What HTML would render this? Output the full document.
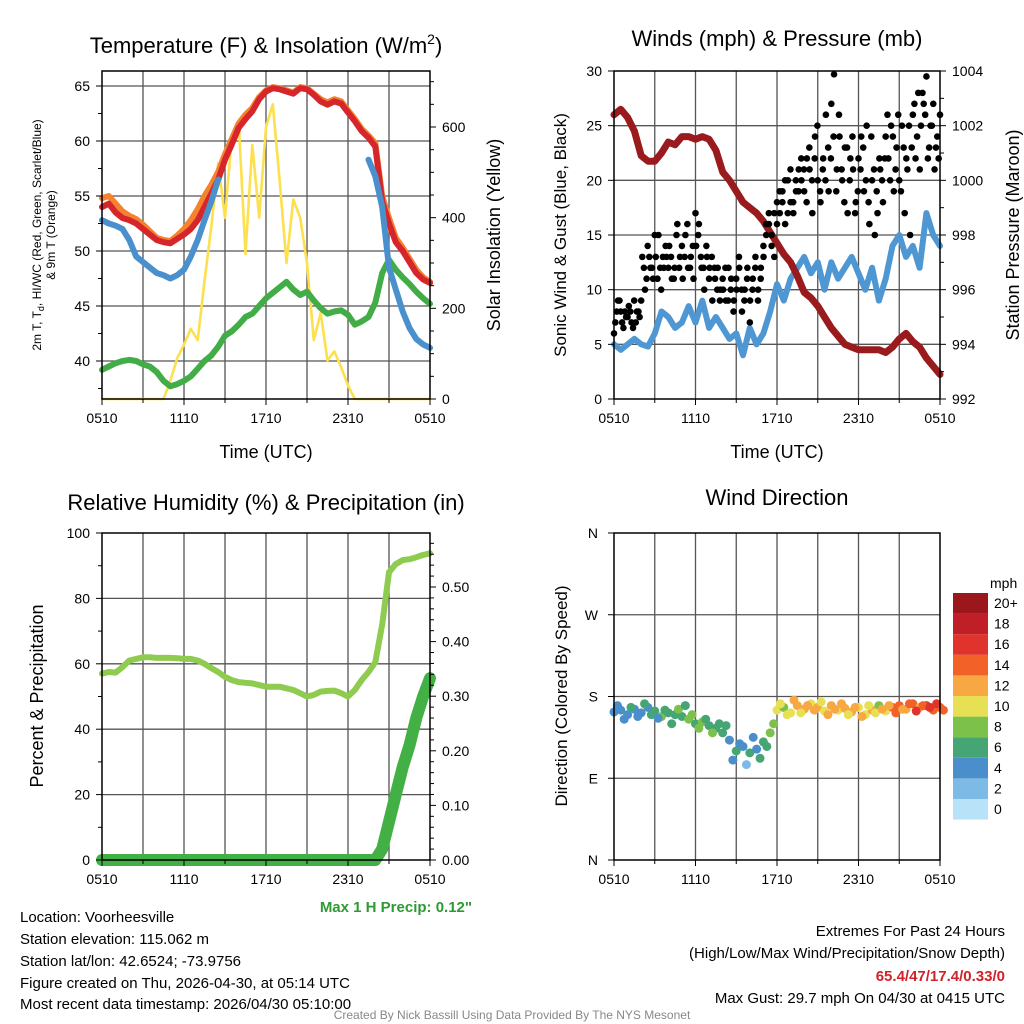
<!DOCTYPE html>
<html><head><meta charset="utf-8">
<style>
html,body{margin:0;padding:0;background:#fff;}
svg{display:block;font-family:"Liberation Sans",Arial,sans-serif;}
</style></head>
<body>
<svg id="fig" width="1024" height="1024" viewBox="0 0 1024 1024" xmlns="http://www.w3.org/2000/svg">
<text x="266" y="53" font-size="22" text-anchor="middle">Temperature (F) &amp; Insolation (W/m<tspan font-size="14" dy="-9">2</tspan><tspan dy="9">)</tspan></text>
<text x="777" y="46" font-size="22" text-anchor="middle">Winds (mph) &amp; Pressure (mb)</text>
<text x="266" y="510" font-size="22" text-anchor="middle">Relative Humidity (%) &amp; Precipitation (in)</text>
<text x="777" y="505" font-size="22" text-anchor="middle">Wind Direction</text>
<text x="266" y="458" font-size="18" text-anchor="middle">Time (UTC)</text>
<text x="777" y="458" font-size="18" text-anchor="middle">Time (UTC)</text>
<text transform="translate(41,235) rotate(-90)" font-size="12" text-anchor="middle">2m T, T<tspan font-size="9" dy="3">d</tspan><tspan dy="-3">, HI/WC (Red, Green, Scarlet/Blue)</tspan></text>
<text transform="translate(55,235) rotate(-90)" font-size="12" text-anchor="middle">&amp; 9m T (Orange)</text>
<text transform="translate(500,235) rotate(-90)" font-size="18" text-anchor="middle">Solar Insolation (Yellow)</text>
<text transform="translate(566,235) rotate(-90)" font-size="17" text-anchor="middle">Sonic Wind &amp; Gust (Blue, Black)</text>
<text transform="translate(1019,235) rotate(-90)" font-size="18" text-anchor="middle">Station Pressure (Maroon)</text>
<text transform="translate(43,696) rotate(-90)" font-size="18" text-anchor="middle">Percent &amp; Precipitation</text>
<text transform="translate(567,696) rotate(-90)" font-size="17" text-anchor="middle">Direction (Colored By Speed)</text>
<text x="472" y="912" font-size="15" font-weight="bold" fill="#2e9a33" text-anchor="end">Max 1 H Precip: 0.12"</text>
<g font-size="15">
<text x="20" y="922">Location: Voorheesville</text>
<text x="20" y="944">Station elevation: 115.062 m</text>
<text x="20" y="966">Station lat/lon: 42.6524; -73.9756</text>
<text x="20" y="988">Figure created on Thu, 2026-04-30, at 05:14 UTC</text>
<text x="20" y="1009">Most recent data timestamp: 2026/04/30 05:10:00</text>
</g>
<g font-size="15" text-anchor="end">
<text x="1005" y="936">Extremes For Past 24 Hours</text>
<text x="1005" y="958">(High/Low/Max Wind/Precipitation/Snow Depth)</text>
<text x="1005" y="981" fill="#d0222a" font-weight="bold">65.4/47/17.4/0.33/0</text>
<text x="1005" y="1003">Max Gust: 29.7 mph On 04/30 at 0415 UTC</text>
</g>
<text x="512" y="1019" font-size="12" fill="#888" text-anchor="middle">Created By Nick Bassill Using Data Provided By The NYS Mesonet</text>
</svg>
<script>
// ---- data (half-hourly, 0510 -> 0510 UTC) ----
const timeLabels = ["0510","1110","1710","2310","0510"];
const tempRed = [54,54.3,53.5,53,52.8,52.5,52,51.5, 51,50.8,50.7,51.1,51.5,52,52.8,54, 55.2,56.5,58.3,59.7,61.2,62,62.7,63.8, 64.5,64.8,64.7,64.5,64.3,64.8,64.7,64.2, 63.6,63.3,63.6,63.4,62.6,61.8,60.9,60.3, 59.5,54.5,52.5,50.8,50,49,48,47.4, 47.1];
const tempOrange = [54.8,55,54.3,53.6,53.2,52.9,52.4,51.8, 51.2,51,50.9,51.4,52,52.8,53.8,55, 56,57.2,58.8,60.2,61.6,62.4,63,64, 64.6,64.9,64.8,64.6,64.4,64.9,64.8,64.3, 63.8,63.5,63.8,63.6,62.8,62,61.1,60.5, 59.8,55,53,51.2,50.3,49.3,48.3,47.6, 47.2];
const heatIndexBlue = [52.8,52.5,52.3,52,51,49.5,49,48.5, 48,47.8,47.5,47.8,48.3,49.5,51,52.8, 54.5,56.5,null,null,null,null,null,null, null,null,null,null,null,null,null,null, null,null,null,null,null,null,null,58.3, 56.8,54,48.5,46.5,44.5,43,42,41.5, 41.2];
const dewGreen = [39.2,39.5,39.8,40,40.1,40,39.7,39.5, 39,38.2,37.7,37.9,38.2,38.6,39.3,40, 40.5,41.3,42.3,42.7,43.3,44,44.3,45, 45.7,46.2,46.7,47.2,46.5,46,46.3,45.5, 44.8,44.3,44.5,44.6,44.2,43.3,43.6,44, 45.3,48,49.2,48.3,47.6,47,46.3,45.7, 45.2];
const solar = [0,0,0,0,0,0,0,0,0,0, 40,90,120,155,130,260,380,520,400,580,610,320,560,400,600,650,480,300,440,400,300,130,190,85,105,70,30,0, 0,0,0,0,0,0,0,0,0,0,0];
const windSpeed = [5,4.5,5,5.5,5,4.8,6,8, 7.5,6.5,7,8.5,7,9,6.5,7.5, 6.5,5.5,6,4,6.5,5,6,8, 10.5,9,11,12,13,11.5,12.5,10, 12.5,11,12,13,11.5,10,12,9, 11,14,15,13,14,12,17,15, 14];
const gusts = [6,8,9,7,8,7.5,8,6.5,7,8, 9,12,11,13,12,15,11,12,13,14, 12,13,11,15,12,14,13,16,12,14, 17,15,13,12,14,11,13,12,10,9, 11,12,9,10,8,11,13,10,9,11, 7,10,12,9,11,14,16,17,15,13, 18,17,19,16,20,18,17,19,21,20, 19,22,21,17,24,20,18,22,26,19, 27,29.7,21,24,20,23,17,22,21,18, 22,24,19,25,16,20,15,17,21,18, 24,22,25,19,23,20,25,17,21,15, 26,22,28,25,27,29.5,23,25,21,24,26];
const gustsB = [7,9,8,6.5,7.5,8.5,7,9,8,7.5, 13,10,14,12,11,13,15,10,12,13, 14,11,12,16,13,11,15,12,13,11, 14,16,12,10,13,12,9,11,12,10, 10,9,12,11,9,10,12,8,10,12, 9,11,13,10,12,13,15,16,14,17, 16,19,18,20,17,21,18,20,19,22, 21,18,23,20,22,25,19,21,20,23, 22,24,19,26,21,18,23,20,24,17, 19,21,23,20,18,24,21,19,22,20, 22,26,20,24,21,26,19,23,22,25, 23,27,24,21,28,26,22,25,27,23,22];
const pressure = [1002.4,1002.6,1002.3,1001.8,1000.9,1000.7,1000.7,1001.0, 1001.4,1001.3,1001.6,1001.6,1001.5,1001.6,1001.5,1001.1, 1000.3,1000,999.6,999.2,999,998.8,998.5,998.1, 997.7,997.3,997,996.5,995.9,995.7,995.4,995, 994.6,994.3,994,993.9,993.8,993.8,993.8,993.8, 993.7,993.9,994.2,994.4,994.1,993.9,993.5,993.2, 992.9];
const relHum = [57,57.5,57.3,59,61,61.5,62,62, 61.8,61.8,61.8,61.7,61.5,61.5,61,60, 58.7,57.5,56,55,54.4,54.2,54,53.5, 53,53,53,52.5,52,51,50,50.5, 51.5,51.7,51.8,51,50,52,55,57.5, 60.5,72,88,90.5,91.7,92,92.6,93.3, 93.8];
const precip = [0,0,0,0,0,0,0,0,0,0,0,0,0,0,0,0,0,0,0,0,0,0,0,0,0,0,0,0,0,0,0,0,0,0,0,0,0,0,0,0,0, 0.02,0.07,0.12,0.17,0.21,0.26,0.30,0.333];
const windDir = [163,165,160,166,162,168,164,158, 162,160,158,155,150,152,148,145, 140,132,120,125,118,122,130,140, 165,168,162,170,166,172,168,164, 170,165,167,163,168,160,165,170, 164,168,170,166,172,168,170,165, 168];
const windDirB = [170,155,168,158,172,160,156,165, 150,166,170,160,145,155,140,150, 148,110,128,105,135,112,125,150, 172,160,176,162,170,165,174,160, 166,172,160,168,158,170,162,166, 170,162,166,172,164,170,168,172, 165];
const windSpeedB = [4.5,5.5,6,5,6.5,7,5,7, 7,8,6,8,9,7.5,8,7, 6,4,5,3.5,5.5,6,7,9, 11,10,12,11.5,12.5,13,11,12, 13,12,10.5,12,13,11,10.5,12, 13,15,13,14,16,15,16,17, 15];
const speedColors = ["#b8e2f8","#7dbbe6","#4a8fcb","#46a574","#7cc24a","#e7e055","#f8a843","#f26128","#e0332b","#c11f27","#9b171c"];
const speedLabels = ["0","2","4","6","8","10","12","14","16","18","20+"];

const NS="http://www.w3.org/2000/svg";
const svg=document.getElementById('fig');
function mk(tag,attrs,parent){const e=document.createElementNS(NS,tag);for(const k in attrs)e.setAttribute(k,attrs[k]);(parent||svg).appendChild(e);return e;}
function panel(x0,y0,x1,y1){return {x0,y0,x1,y1,xs:h=>x0+(x1-x0)*h/24};}
function lin(d0,d1,p0,p1){return v=>p0+(v-d0)*(p1-p0)/(d1-d0);}

function frame(P,name,hLines){
  const g=mk('g',{});
  
  
  for(let i=1;i<8;i++){const x=P.xs(i*3);mk('line',{x1:x,x2:x,y1:P.y0,y2:P.y1,stroke:'#555','stroke-width':1.3},g);}
  hLines.forEach(y=>mk('line',{x1:P.x0,x2:P.x1,y1:y,y2:y,stroke:'#555','stroke-width':1.3},g));
  return g;
}
function border(P,name){
  const r=mk('rect',{x:P.x0,y:P.y0,width:P.x1-P.x0,height:P.y1-P.y0,fill:'none',stroke:'#000','stroke-width':1.5});
  
  
  const g=mk('g',{'font-size':14,'text-anchor':'middle'});
  
  
  timeLabels.forEach((t,i)=>{const x=P.xs(i*6);mk('line',{x1:x,x2:x,y1:P.y1,y2:P.y1+6,stroke:'#000'},g);const tx=mk('text',{x:x,y:P.y1+24},g);tx.textContent=t;});
  for(let i=1;i<8;i+=2){const x=P.xs(i*3);mk('line',{x1:x,x2:x,y1:P.y1,y2:P.y1+4,stroke:'#000'},g);}
}
function yTicks(P,side,vals,scale,fmt,name,minor){
  const g=mk('g',{'font-size':14,'text-anchor':side==='left'?'end':'start'});
  
  
  const x=side==='left'?P.x0:P.x1, d=side==='left'?-1:1;
  vals.forEach(v=>{const y=scale(v);mk('line',{x1:x,x2:x+d*6,y1:y,y2:y,stroke:'#000'},g);const t=mk('text',{x:x+d*12,y:y+5},g);t.textContent=fmt(v);});
  (minor||[]).forEach(v=>{const y=scale(v);mk('line',{x1:x,x2:x+d*4,y1:y,y2:y,stroke:'#000'},g);});
}
function line(P,vals,scale,color,w,name,step){
  let dstr='',pen=false;
  vals.forEach((v,i)=>{if(v===null){pen=false;return;}const x=P.xs(i*(step||0.5)),y=scale(v);dstr+=(pen?'L':'M')+x.toFixed(1)+','+y.toFixed(1);pen=true;});
  const p=mk('path',{d:dstr,fill:'none',stroke:color,'stroke-width':w,'stroke-linejoin':'round','stroke-linecap':'round'});
  
  
  return p;
}

// ---- Panel 1 ----
const P1=panel(102,71,430,399);
const t1=lin(40,65,361,86), s1=lin(0,600,399,127);
frame(P1,'temp',[40,45,50,55,60,65].map(t1));
line(P1,solar,s1,'#fde04e',2.6,'solar-insolation-line');
line(P1,dewGreen,t1,'#42ad47',6,'dewpoint-line');
line(P1,tempOrange,t1,'#f4822f',6,'temp-9m-line');
line(P1,tempRed,t1,'#d7262b',6,'temp-2m-line');
line(P1,heatIndexBlue,t1,'#4a90cc',6,'heat-index-wind-chill-line');
border(P1,'temp');
yTicks(P1,'left',[40,45,50,55,60,65],t1,v=>v,'temp-y-axis',[37.5,42.5,47.5,52.5,57.5,62.5]);
yTicks(P1,'right',[0,200,400,600],s1,v=>v,'solar-y-axis',[50,100,150,250,300,350,450,500,550,650,700]);

// ---- Panel 2 ----
const P2=panel(614,71,940,399);
const w2=lin(0,30,399,71), p2=lin(992,1004,399,71);
frame(P2,'wind',[5,10,15,20,25].map(w2));
line(P2,windSpeed,w2,'#4f97d3',6,'sonic-wind-line');
line(P2,pressure,p2,'#9a1b1e',7,'pressure-line');
const gg=mk('g',{});


gusts.forEach((v,i)=>{mk('circle',{cx:P2.xs(i*24/(gusts.length-1)),cy:w2(v),r:3.3,fill:'#000'},gg);});
gustsB.forEach((v,i)=>{mk('circle',{cx:P2.xs((i+0.5)*24/(gustsB.length)),cy:w2(v),r:3.3,fill:'#000'},gg);});
border(P2,'wind');
yTicks(P2,'left',[0,5,10,15,20,25,30],w2,v=>v,'wind-y-axis',[]);
yTicks(P2,'right',[992,994,996,998,1000,1002,1004],p2,v=>v,'pressure-y-axis',[993,995,997,999,1001,1003]);

// ---- Panel 3 ----
const P3=panel(102,533,430,860);
const r3=lin(0,100,860,533), q3=lin(0,0.5,860,587);
frame(P3,'rh',[20,40,60,80].map(r3));
line(P3,relHum,r3,'#8ecb4f',6,'relative-humidity-line');
line(P3,precip,q3,'#43b045',12,'precipitation-line');
border(P3,'rh');
yTicks(P3,'left',[0,20,40,60,80,100],r3,v=>v,'rh-y-axis',[10,30,50,70,90]);
yTicks(P3,'right',[0,0.1,0.2,0.3,0.4,0.5],q3,v=>v.toFixed(2),'precip-y-axis',[0.02,0.04,0.06,0.08,0.12,0.14,0.16,0.18,0.22,0.24,0.26,0.28,0.32,0.34,0.36,0.38,0.42,0.44,0.46,0.48,0.52,0.54,0.56,0.58]);

// ---- Panel 4 ----
const P4=panel(614,533,940,860);
const d4=lin(0,360,860,533);
frame(P4,'direction',[90,180,270].map(d4));
const dg=mk('g',{});


function cIdx(s){return Math.min(10,Math.max(0,Math.floor(s/2)));}
windDir.forEach((v,i)=>{mk('circle',{cx:P4.xs(i*0.5),cy:d4(v),r:4.5,fill:speedColors[cIdx(windSpeed[i])]},dg);});
windDirB.forEach((v,i)=>{mk('circle',{cx:P4.xs(i*0.5+0.25),cy:d4(v),r:4.5,fill:speedColors[cIdx(windSpeedB[i])]},dg);});
border(P4,'direction');
const dl=mk('g',{'font-size':14,'text-anchor':'end'});


["N","E","S","W","N"].forEach((t,i)=>{const y=d4(i*90);mk('line',{x1:P4.x0,x2:P4.x0-6,y1:y,y2:y,stroke:'#000'},dl);const tx=mk('text',{x:P4.x0-16,y:y+5},dl);tx.textContent=t;});

// colorbar
const cb=mk('g',{'font-size':14});


const cbTitle=mk('text',{x:990,y:588},cb);cbTitle.textContent='mph';
speedColors.forEach((c,i)=>{const y=799-i*20.6;mk('rect',{x:953,y:y,width:35,height:20.6,fill:c},cb);const t=mk('text',{x:994,y:y+15},cb);t.textContent=speedLabels[i];});
</script>
</body></html>
